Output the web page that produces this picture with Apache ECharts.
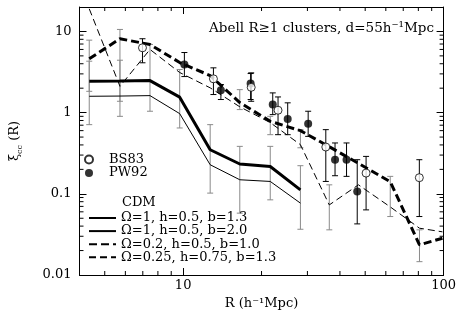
<!DOCTYPE html>
<html>
<head>
    <meta http-equiv="Content-Type" content="text/html; charset=utf-8"/>
    <title>xi_cc(R) Abell clusters</title>
    <script type="text/javascript" src="https://cdn.jsdelivr.net/npm/echarts@6/dist/echarts.min.js"></script>
    <style>
        html, body { margin: 0; padding: 0; background: #fff; }
    </style>
</head>
<body>
<div id="main" style="width: 459px;height:316px;"></div>
<script type="text/javascript">
    // R grid of the CDM model curves (h^-1 Mpc)
    var modelR = [4.36, 5.72, 7.46, 9.7, 12.7, 16.5, 21.6, 28.2, 36.4, 47.1, 62.4, 80.8, 99];
    // Omega=1, h=0.5, b=1.3 (thick solid)
    var cdm1 = [2.43, 2.45, 2.48, 1.55, 0.349, 0.233, 0.217, 0.112];
    // Omega=1, h=0.5, b=2.0 (thin solid)
    var cdm2 = [1.59, 1.6, 1.62, 0.972, 0.228, 0.149, 0.142, 0.0768];
    // Omega=0.2, h=0.5, b=1.0 (thick dashed)
    var cdm3 = [4.6, 8.13, 6.91, 4.14, 2.86, 1.33, 0.781, 0.6, 0.38, 0.237, 0.141, 0.0235, 0.0284];
    // Omega=0.25, h=0.75, b=1.3 (thin dashed)
    var cdm4 = [19, 2.11, 6.0, 3.12, 2.02, 1.18, 0.753, 0.403, 0.073, 0.129, 0.069, 0.0377, 0.034];

    // gray error bars of the models: R, high, low
    var modelErrR  = [4.36, 4.36, 5.72, 5.72, 7.46, 9.7, 12.7, 16.5, 16.5, 21.6, 21.6, 28.2, 28.2, 36.4, 62.4, 80.8];
    var modelErrHi = [7.81, 4.3, 10.58, 4.42, 6.91, 3.4, 0.711, 1.92, 0.384, 0.9, 0.384, 0.617, 0.222, 0.129, 0.164, 0.036];
    var modelErrLo = [1.83, 0.711, 1.38, 0.9, 1.04, 0.647, 0.102, 1.09, 0.0578, 0.535, 0.0843, 0.369, 0.0366, 0.036, 0.0525, 0.0146];

    // BS83 (open circles)
    var bsR  = [6.98, 13.07, 18.25, 23.14, 35.3, 50.4, 80.7];
    var bsXi = [6.29, 2.61, 2.05, 1.07, 0.377, 0.18, 0.158];
    var bsHi = [8.13, 3.56, 3.09, 1.56, 0.617, 0.289, 0.263];
    var bsLo = [4.11, 1.67, 1.38, 0.535, 0.142, 0.0634, 0.0525];

    // PW92 (filled circles)
    var pwR  = [10.11, 13.96, 18.16, 22.08, 25.2, 30.2, 38.3, 42.4, 46.6];
    var pwXi = [3.91, 1.88, 2.28, 1.26, 0.836, 0.732, 0.263, 0.263, 0.107];
    var pwHi = [5.5, 2.22, 3.03, 1.75, 1.32, 1.04, 0.423, 0.423, 0.263];
    var pwLo = [2.78, 1.45, 1.45, 0.945, 0.535, 0.51, 0.167, 0.164, 0.0426];

    // axis ranges and minor ticks
    var xMin = 4, xMax = 100, yMin = 0.01, yMax = 20;
    var xMinor = [5, 6, 7, 8, 9, 20, 30, 40, 50, 60, 70, 80, 90];
    var yMinor = [0.02, 0.03, 0.04, 0.05, 0.06, 0.07, 0.08, 0.09,
                  0.2, 0.3, 0.4, 0.5, 0.6, 0.7, 0.8, 0.9,
                  2, 3, 4, 5, 6, 7, 8, 9];

    var FONT = 'DejaVu Serif';

    function zip(a, b) {
        var out = [];
        for (var i = 0; i < b.length; i++) out.push([a[i], b[i]]);
        return out;
    }
    function zip3(a, b, c) {
        var out = [];
        for (var i = 0; i < a.length; i++) out.push([a[i], b[i], c[i]]);
        return out;
    }

    function errRender(color) {
        return function (params, api) {
            var x = api.value(0);
            var p1 = api.coord([x, api.value(1)]);
            var p2 = api.coord([x, api.value(2)]);
            var w = 3;
            var st = { stroke: color, lineWidth: 1 };
            return {
                type: 'group',
                children: [
                    { type: 'line', shape: { x1: p1[0], y1: p1[1], x2: p2[0], y2: p2[1] }, style: st },
                    { type: 'line', shape: { x1: p1[0] - w, y1: p1[1], x2: p1[0] + w, y2: p1[1] }, style: st },
                    { type: 'line', shape: { x1: p2[0] - w, y1: p2[1], x2: p2[0] + w, y2: p2[1] }, style: st }
                ]
            };
        };
    }

    // minor ticks on all four sides
    function xMinorRender(params, api) {
        var v = api.value(0);
        var b = api.coord([v, yMin]);
        var t = api.coord([v, yMax]);
        var st = { stroke: '#000', lineWidth: 1 };
        return {
            type: 'group',
            children: [
                { type: 'line', shape: { x1: b[0], y1: b[1], x2: b[0], y2: b[1] - 4 }, style: st },
                { type: 'line', shape: { x1: t[0], y1: t[1], x2: t[0], y2: t[1] + 4 }, style: st }
            ]
        };
    }
    function yMinorRender(params, api) {
        var v = api.value(1);
        var l = api.coord([xMin, v]);
        var r = api.coord([xMax, v]);
        var st = { stroke: '#000', lineWidth: 1 };
        return {
            type: 'group',
            children: [
                { type: 'line', shape: { x1: l[0], y1: l[1], x2: l[0] + 4, y2: l[1] }, style: st },
                { type: 'line', shape: { x1: r[0], y1: r[1], x2: r[0] - 4, y2: r[1] }, style: st }
            ]
        };
    }

    function decadeLabel(v) {
        var l = Math.log(v) / Math.LN10;
        if (Math.abs(l - Math.round(l)) > 1e-6) return '';
        return String(Number(v.toPrecision(1)));
    }

    var axisLineStyle = { show: true, lineStyle: { color: '#000', width: 1 } };
    var tickStyle = { show: true, inside: true, length: 7, lineStyle: { color: '#000' } };

    var myChart = echarts.init(document.getElementById('main'));
    var option = {
        animation: false,
        backgroundColor: '#fff',
        title: {
            text: 'Abell R\u22651 clusters, d=55h\u207B\u00B9Mpc',
            right: 20,
            top: 16,
            textStyle: { fontFamily: FONT, fontWeight: 'normal', fontSize: 13.5, color: '#000' }
        },
        grid: { left: 69, right: 13, top: 7, bottom: 41 },
        legend: [
            {
                data: ['BS83', 'PW92'],
                orient: 'vertical',
                left: 84,
                top: 153,
                padding: 0,
                itemWidth: 30,
                itemHeight: 8,
                itemGap: 0.4,
                selectedMode: false,
                textStyle: { fontFamily: FONT, fontSize: 13, color: '#000', lineHeight: 13 }
            },
            {
                // tiny itemHeight hides the marker dot the line icon carries
                data: ['\u03A9=1, h=0.5, b=1.3', '\u03A9=1, h=0.5, b=2.0',
                       '\u03A9=0.2, h=0.5, b=1.0', '\u03A9=0.25, h=0.75, b=1.3'],
                orient: 'vertical',
                left: 88,
                top: 211.5,
                padding: 0,
                itemWidth: 27,
                itemHeight: 0.5,
                itemGap: 0.1,
                selectedMode: false,
                textStyle: { fontFamily: FONT, fontSize: 13, color: '#000', lineHeight: 13 }
            }
        ],
        graphic: [
            {
                type: 'text', left: 122, top: 196,
                style: { text: 'CDM', font: '13px "DejaVu Serif"', fill: '#000' }
            }
        ],
        xAxis: [
            {
                type: 'log', logBase: 10, min: xMin, max: xMax,
                name: 'R (h\u207B\u00B9Mpc)',
                nameLocation: 'middle',
                nameGap: 21,
                nameTextStyle: { fontFamily: FONT, fontSize: 13, color: '#000' },
                axisLine: axisLineStyle,
                axisTick: tickStyle,
                axisLabel: { formatter: decadeLabel, fontFamily: FONT, fontSize: 13, color: '#000', margin: 4 },
                splitLine: { show: false }
            },
            {
                type: 'log', logBase: 10, min: xMin, max: xMax, position: 'top',
                axisLine: axisLineStyle,
                axisTick: tickStyle,
                axisLabel: { show: false },
                splitLine: { show: false }
            }
        ],
        yAxis: [
            {
                type: 'log', logBase: 10, min: yMin, max: yMax,
                name: '{x|\u03BE}{s|cc} (R)',
                nameLocation: 'middle',
                nameGap: 56,
                nameTextStyle: {
                    fontFamily: FONT, fontSize: 13, color: '#000',
                    rich: {
                        x: { fontFamily: FONT, fontSize: 13, color: '#000', lineHeight: 18 },
                        s: { fontFamily: FONT, fontSize: 8, color: '#000', verticalAlign: 'bottom', lineHeight: 18, padding: [6, 0, 0, 0] }
                    }
                },
                axisLine: axisLineStyle,
                axisTick: tickStyle,
                axisLabel: { formatter: decadeLabel, fontFamily: FONT, fontSize: 13, color: '#000', margin: 8 },
                splitLine: { show: false }
            },
            {
                type: 'log', logBase: 10, min: yMin, max: yMax, position: 'right',
                axisLine: axisLineStyle,
                axisTick: tickStyle,
                axisLabel: { show: false },
                splitLine: { show: false }
            }
        ],
        series: [
            {
                name: 'xMinor', type: 'custom', renderItem: xMinorRender, silent: true, clip: false,
                data: xMinor.map(function (v) { return [v, 1]; })
            },
            {
                name: 'yMinor', type: 'custom', renderItem: yMinorRender, silent: true, clip: false,
                data: yMinor.map(function (v) { return [10, v]; })
            },
            {
                name: 'modelErr', type: 'custom', renderItem: errRender('#8a8a8a'), silent: true, clip: true,
                encode: { x: 0, y: [1, 2] },
                data: zip3(modelErrR, modelErrHi, modelErrLo), z: 2
            },
            {
                name: '\u03A9=1, h=0.5, b=1.3', type: 'line', symbol: 'none', clip: true,
                lineStyle: { color: '#000', width: 3, type: 'solid' },
                itemStyle: { color: '#000' },
                data: zip(modelR, cdm1), z: 3
            },
            {
                name: '\u03A9=1, h=0.5, b=2.0', type: 'line', symbol: 'none', clip: true,
                lineStyle: { color: '#000', width: 1, type: 'solid' },
                itemStyle: { color: '#000' },
                data: zip(modelR, cdm2), z: 3
            },
            {
                name: '\u03A9=0.2, h=0.5, b=1.0', type: 'line', symbol: 'none', clip: true,
                lineStyle: { color: '#000', width: 3, type: [8, 4] },
                itemStyle: { color: '#000' },
                data: zip(modelR, cdm3), z: 3
            },
            {
                name: '\u03A9=0.25, h=0.75, b=1.3', type: 'line', symbol: 'none', clip: true,
                lineStyle: { color: '#000', width: 1, type: [7, 4] },
                itemStyle: { color: '#000' },
                data: zip(modelR, cdm4), z: 3
            },
            {
                name: 'bsErr', type: 'custom', renderItem: errRender('#000'), silent: true,
                encode: { x: 0, y: [1, 2] },
                data: zip3(bsR, bsHi, bsLo), z: 4
            },
            {
                name: 'pwErr', type: 'custom', renderItem: errRender('#000'), silent: true,
                encode: { x: 0, y: [1, 2] },
                data: zip3(pwR, pwHi, pwLo), z: 4
            },
            {
                name: 'PW92', type: 'scatter', symbol: 'circle', symbolSize: 8,
                itemStyle: { color: '#000' },
                data: zip(pwR, pwXi), z: 5
            },
            {
                name: 'BS83', type: 'scatter', symbol: 'circle', symbolSize: 8,
                itemStyle: { color: '#fff', borderColor: '#000', borderWidth: 1 },
                data: zip(bsR, bsXi), z: 6
            }
        ]
    };
    myChart.setOption(option);
</script>
</body>
</html>
